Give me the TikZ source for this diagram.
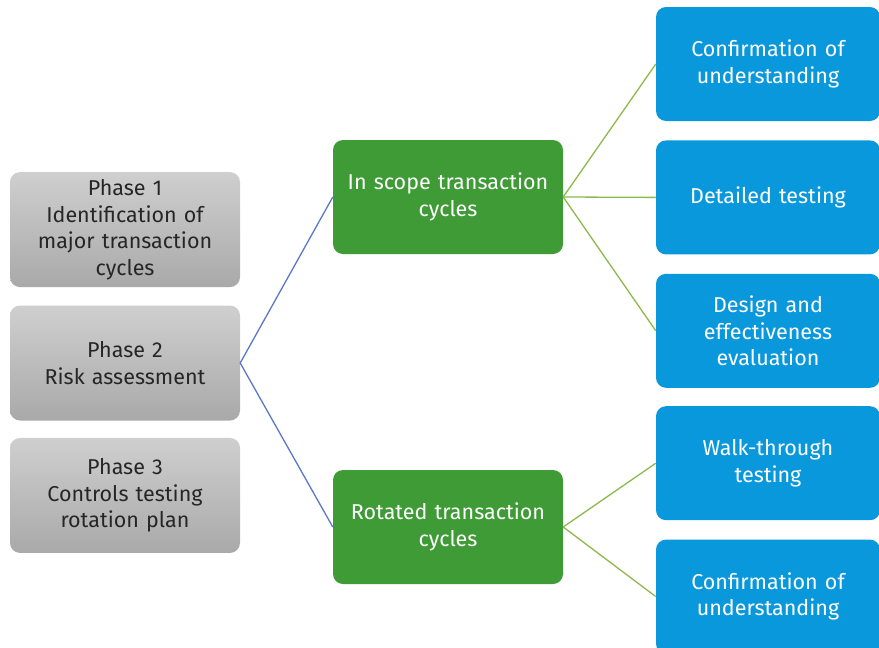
\documentclass[tikz,border=0pt]{standalone}
\usepackage{fontspec}
\setmainfont{Fira Sans}
\usetikzlibrary{positioning}
\definecolor{phasegraytop}{HTML}{CFCFCF}
\definecolor{phasegraybot}{HTML}{A9A9A9}
\definecolor{cyclegreen}{HTML}{3E9B36}
\definecolor{testblue}{HTML}{0A98DC}
\definecolor{linkblue}{HTML}{5A78C8}
\definecolor{linkgreen}{HTML}{8DB84A}
\tikzset{
phase/.style={
  rectangle,
  rounded corners=10pt,
  top color=phasegraytop,
  bottom color=phasegraybot,
  text=black!85,
  text width=220pt,
  align=center,
  minimum width=230pt,
  minimum height=115pt,
  font=\fontsize{21.5}{26.5}\selectfont},
cycle/.style={
  rectangle,
  rounded corners=10pt,
  fill=cyclegreen,
  text=white,
  text width=222pt,
  inner xsep=4pt,
  align=center,
  minimum width=230pt,
  minimum height=114pt,
  font=\fontsize{21.5}{26.5}\selectfont},
test/.style={
  rectangle,
  rounded corners=10pt,
  fill=testblue,
  text=white,
  text width=216pt,
  align=center,
  minimum width=224pt,
  minimum height=114pt,
  font=\fontsize{21.5}{26.5}\selectfont},
bluelink/.style={draw=linkblue, line width=1.3pt},
greenlink/.style={draw=linkgreen, line width=1.3pt}
}
\begin{document}
\begin{tikzpicture}[x=1pt,y=-1pt]
    \useasboundingbox (0,0) rectangle (879,648);
    % phases
    \node [phase] (ph2) at (125,363) {Phase 2\\Risk assessment};
    \node [phase, above=18pt of ph2] (ph1) {Phase 1\\Identification of\\major transaction\\cycles};
    \node [phase, below=17pt of ph2] (ph3) {Phase 3\\Controls testing\\rotation plan};
    % transaction cycles
    \node [cycle] (inscope) at (448,197) {In scope transaction\\cycles};
    \node [cycle] (rotated) at (448,527) {Rotated transaction\\cycles};
    % testing
    \node [test] (confirm1) at (768,64) {Confirmation of\\understanding};
    \node [test, below=19pt of confirm1] (detailed) {Detailed testing};
    \node [test, below=19pt of detailed] (design) {Design and\\effectiveness\\evaluation};
    \node [test, below=18pt of design] (walk) {Walk-through\\testing};
    \node [test, below=19pt of walk] (confirm2) {Confirmation of\\understanding};
    \path [bluelink] (ph2.east) -- (inscope.west);
    \path [bluelink] (ph2.east) -- (rotated.west);
    \path [greenlink] (inscope.east) -- (confirm1.west);
    \path [greenlink] (inscope.east) -- (detailed.west);
    \path [greenlink] (inscope.east) -- (design.west);
    \path [greenlink] (rotated.east) -- (walk.west);
    \path [greenlink] (rotated.east) -- (confirm2.west);
\end{tikzpicture}
\end{document}
